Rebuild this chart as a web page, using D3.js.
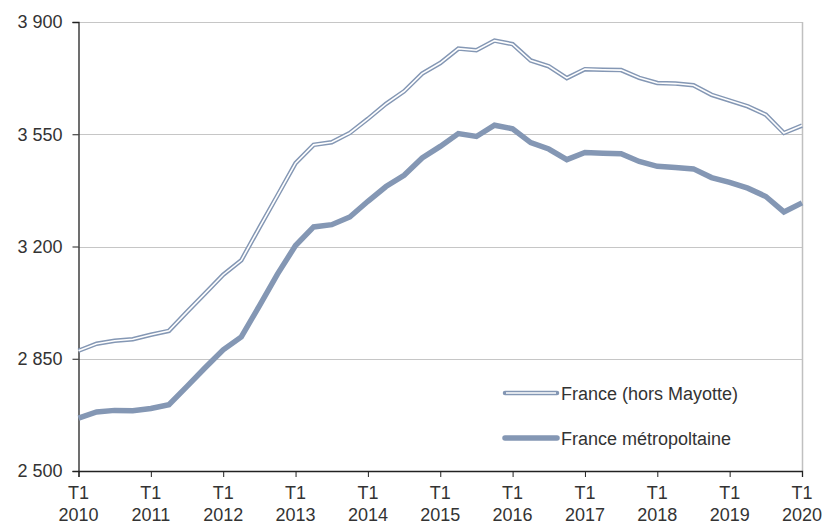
<!DOCTYPE html>
<html>
<head>
<meta charset="utf-8">
<script src="https://cdn.jsdelivr.net/npm/d3@7"></script>
<style>
  body { margin: 0; background: #fff; }
  text { font-family: "Liberation Sans", Arial, sans-serif; fill: #333; }
</style>
</head>
<body>
<div id="chart"></div>
<script>
// quarterly data, T1 2010 .. T1 2020
const years = ['2010', '2011', '2012', '2013', '2014', '2015', '2016', '2017', '2018', '2019', '2020'];
const yTicks = [2500, 2850, 3200, 3550, 3900];

const franceHorsMayotte = [
  2875, 2897, 2906, 2911, 2925, 2937, 2996, 3054, 3112, 3157,
  3259, 3359, 3460, 3517, 3525, 3554, 3598, 3645, 3684, 3739,
  3772, 3817, 3812, 3842, 3831, 3780, 3762, 3725, 3753, 3751,
  3750, 3726, 3710, 3708, 3703, 3673, 3655, 3637, 3611, 3554,
  3577
];
const franceMetro = [
  2665, 2684, 2689, 2688, 2695, 2707, 2764, 2822, 2878, 2918,
  3015, 3114, 3203, 3261, 3268, 3292, 3341, 3387, 3422, 3476,
  3512, 3552, 3543, 3578, 3567, 3524, 3504, 3471, 3493, 3491,
  3489, 3465, 3450, 3446, 3442, 3415, 3400, 3382, 3356, 3308,
  3336
];
const seriesNames = ['France (hors Mayotte)', 'France métropoltaine'];

const width = 824, height = 524;
const margin = { top: 22, right: 22, bottom: 53, left: 78.5 };
const lineColor = '#8497b4';
const fontSize = '18px';

const svg = d3.select('#chart').append('svg')
  .attr('width', width)
  .attr('height', height);

const x = d3.scaleLinear()
  .domain([0, franceMetro.length - 1])
  .range([margin.left, width - margin.right]);

const y = d3.scaleLinear()
  .domain([2500, 3900])
  .range([height - margin.bottom, margin.top]);

// gridlines
svg.append('g')
  .selectAll('line')
  .data(yTicks.filter(d => d > 2500))
  .enter().append('line')
  .attr('x1', margin.left)
  .attr('x2', width - margin.right)
  .attr('y1', d => Math.round(y(d)) + 0.5)
  .attr('y2', d => Math.round(y(d)) + 0.5)
  .attr('stroke', '#c6c6c6')
  .attr('stroke-width', 1.2);

// right border
svg.append('line')
  .attr('x1', width - margin.right + 0.5)
  .attr('x2', width - margin.right + 0.5)
  .attr('y1', y(3900))
  .attr('y2', y(2500))
  .attr('stroke', '#c0c0c0')
  .attr('stroke-width', 1.5);

const fmt = d => d3.format(',')(d).replace(',', ' ');

// y axis
const yAxis = svg.append('g')
  .attr('transform', `translate(${margin.left},0)`)
  .call(d3.axisLeft(y).tickValues(yTicks).tickSize(6).tickPadding(10).tickFormat(fmt));
yAxis.select('.domain').attr('stroke', '#222').attr('stroke-width', 1.3);
yAxis.selectAll('.tick line').attr('stroke', '#222');
yAxis.selectAll('text').style('font-size', fontSize).attr('fill', '#333');

// x axis
const quarterTicks = d3.range(0, franceMetro.length, 4);
const xAxis = svg.append('g')
  .attr('transform', `translate(0,${height - margin.bottom})`)
  .call(d3.axisBottom(x).tickValues(quarterTicks).tickSize(6).tickFormat(''));
xAxis.select('.domain').attr('stroke', '#222').attr('stroke-width', 1.3);
xAxis.selectAll('.tick line').attr('stroke', '#222');

const labels = svg.append('g');
quarterTicks.forEach((q, i) => {
  const t = labels.append('text')
    .attr('x', x(q))
    .attr('y', 499)
    .attr('text-anchor', 'middle')
    .style('font-size', fontSize);
  t.append('tspan').attr('x', x(q)).text('T1');
  t.append('tspan').attr('x', x(q)).attr('dy', 21.5).text(years[i]);
});

const line = d3.line()
  .x((d, i) => x(i))
  .y(d => y(d));

// France (hors Mayotte): double line
svg.append('path')
  .datum(franceHorsMayotte)
  .attr('d', line)
  .attr('fill', 'none')
  .attr('stroke', lineColor)
  .attr('stroke-width', 4.5);
svg.append('path')
  .datum(franceHorsMayotte)
  .attr('d', line)
  .attr('fill', 'none')
  .attr('stroke', '#fff')
  .attr('stroke-width', 1.6);

// France métropolitaine: thick line
svg.append('path')
  .datum(franceMetro)
  .attr('d', line)
  .attr('fill', 'none')
  .attr('stroke', lineColor)
  .attr('stroke-width', 5.5);

// legend
const legend = svg.append('g');
[0, 1].forEach(k => {
  const ly = k === 0 ? 393 : 438;
  legend.append('line')
    .attr('x1', 505).attr('x2', 557)
    .attr('y1', ly).attr('y2', ly)
    .attr('stroke', lineColor)
    .attr('stroke-width', k === 0 ? 4.5 : 5.5)
    .attr('stroke-linecap', 'round');
  if (k === 0) {
    legend.append('line')
      .attr('x1', 506).attr('x2', 556)
      .attr('y1', ly).attr('y2', ly)
      .attr('stroke', '#fff')
      .attr('stroke-width', 1.6);
  }
  legend.append('text')
    .attr('x', 561)
    .attr('y', ly + 6.5)
    .style('font-size', fontSize)
    .text(seriesNames[k]);
});
</script>
</body>
</html>
